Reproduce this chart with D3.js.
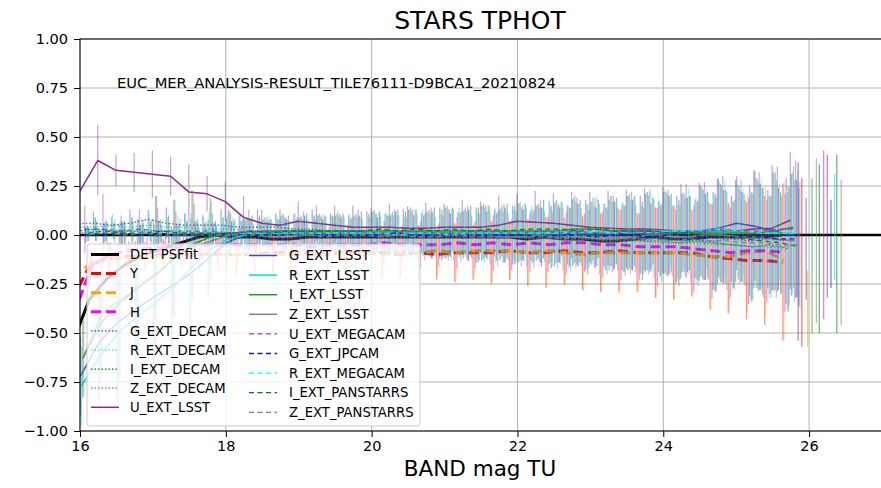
<!DOCTYPE html>
<html>
<head>
<meta charset="utf-8">
<script src="https://cdn.jsdelivr.net/npm/d3@7"></script>
<style>
  body { margin: 0; background: #fff; }
  svg text { font-family: "DejaVu Sans", sans-serif; fill: #000; }
</style>
</head>
<body>
<div id="chart"></div>
<script>
// magnitude bins (BAND mag TU)
const magBins = [16.00,16.25,16.50,16.75,17.00,17.25,17.50,17.75,18.00,18.25,
  18.50,18.75,19.00,19.25,19.50,19.75,20.00,20.25,20.50,20.75,
  21.00,21.25,21.50,21.75,22.00,22.25,22.50,22.75,23.00,23.25,
  23.50,23.75,24.00,24.25,24.50,24.75,25.00,25.25,25.50,25.75];

const xTicks = [16, 18, 20, 22, 24, 26];
const yTicks = [-1, -0.75, -0.5, -0.25, 0, 0.25, 0.5, 0.75, 1];

// mean offsets per band
const detPsf = [-0.57,-0.33,-0.22,-0.15,-0.10,-0.07,-0.04,-0.01,0.00,-0.01,
  -0.01,-0.02,-0.02,-0.01,-0.01,-0.01,-0.01,-0.01,-0.01,-0.01,
  -0.01,-0.01,-0.01,-0.01,-0.01,-0.02,-0.01,-0.02,-0.02,-0.03,
  -0.03,-0.02,-0.01,-0.02,-0.02,-0.01,-0.01,-0.01,-0.01,0.00];
const yBand = [-0.33,-0.15,-0.12,-0.11,-0.11,-0.10,-0.10,-0.10,-0.10,-0.10,
  -0.10,-0.09,-0.09,-0.09,-0.10,-0.09,-0.09,-0.09,-0.10,-0.09,
  -0.10,-0.09,-0.09,-0.09,-0.08,-0.09,-0.09,-0.08,-0.09,-0.09,
  -0.08,-0.09,-0.09,-0.09,-0.09,-0.11,-0.12,-0.13,-0.13,-0.14];
const jBand = [-0.22,-0.14,-0.12,-0.12,-0.11,-0.11,-0.11,-0.10,-0.10,-0.10,
  -0.10,-0.10,-0.10,-0.10,-0.09,-0.10,-0.09,-0.10,-0.09,-0.09,
  -0.08,-0.09,-0.08,-0.08,-0.08,-0.09,-0.08,-0.09,-0.10,-0.09,
  -0.09,-0.09,-0.09,-0.09,-0.10,-0.11,-0.11,-0.09,-0.08,-0.13];
const hBand = [-0.40,-0.15,-0.10,-0.08,-0.07,-0.06,-0.06,-0.05,-0.05,-0.05,
  -0.05,-0.05,-0.05,-0.06,-0.05,-0.05,-0.05,-0.04,-0.05,-0.05,
  -0.05,-0.04,-0.05,-0.04,-0.05,-0.04,-0.05,-0.04,-0.04,-0.05,
  -0.05,-0.06,-0.06,-0.06,-0.07,-0.08,-0.09,-0.08,-0.08,-0.09];
const gDecam = [0.06,0.06,0.05,0.06,0.08,0.06,0.05,0.05,0.05,0.04,
  0.04,0.04,0.03,0.03,0.02,0.02,0.01,0.01,0.01,0.01,
  0.01,0.01,0.00,0.01,0.00,0.00,0.01,0.00,0.00,0.00,
  -0.01,0.00,-0.01,-0.02,-0.02,-0.03,-0.02,-0.03,-0.02,-0.03];
const rDecam = [0.04,0.04,0.05,0.04,0.05,0.04,0.04,0.03,0.03,0.03,
  0.02,0.02,0.02,0.02,0.01,0.01,0.01,0.01,0.00,0.01,
  0.00,0.01,0.00,0.00,0.00,0.00,0.00,-0.01,0.00,-0.01,
  -0.01,-0.02,-0.02,-0.03,-0.03,-0.04,-0.05,-0.06,-0.06,-0.08];
const iDecam = [0.02,0.03,0.02,0.02,0.02,0.02,0.01,0.01,0.01,0.01,
  0.01,0.01,0.00,0.00,0.01,0.00,0.00,0.00,0.00,0.00,
  0.00,0.00,0.00,-0.01,0.00,-0.01,-0.01,-0.01,-0.02,-0.02,
  -0.02,-0.03,-0.03,-0.04,-0.03,-0.04,-0.05,-0.06,-0.05,-0.07];
const zDecam = [0.01,0.02,0.02,0.02,0.01,0.01,0.01,0.01,0.00,0.00,
  0.00,0.00,0.00,0.00,0.00,-0.01,0.00,-0.01,-0.01,-0.01,
  -0.01,-0.01,-0.01,-0.02,-0.01,-0.02,-0.02,-0.02,-0.02,-0.03,
  -0.03,-0.03,-0.04,-0.04,-0.04,-0.05,-0.05,-0.06,-0.06,-0.06];
const uLsst = [0.22,0.38,0.33,0.32,0.31,0.30,0.22,0.21,0.17,0.09,
  0.06,0.05,0.07,0.06,0.05,0.04,0.04,0.04,0.035,0.035,
  0.04,0.04,0.04,0.05,0.07,0.065,0.06,0.05,0.04,0.035,
  0.03,0.03,0.025,0.02,0.015,0.02,0.02,0.03,0.035,0.075];
const gLsst = [-0.72,-0.55,-0.45,-0.38,-0.32,-0.26,-0.20,-0.12,-0.04,0.00,
  0.01,0.01,0.01,0.01,0.00,0.01,0.01,0.00,0.01,0.01,
  0.01,0.00,0.01,0.00,0.01,0.01,0.00,0.01,0.01,0.00,
  0.01,0.01,0.01,0.01,0.02,0.035,0.06,0.045,0.02,0.00];
const rLsst = [-0.77,-0.62,-0.50,-0.42,-0.35,-0.27,-0.17,-0.08,-0.02,0.00,
  0.01,0.01,0.01,0.01,0.01,0.01,0.01,0.01,0.01,0.01,
  0.01,0.01,0.01,0.01,0.01,0.01,0.01,0.02,0.01,0.02,
  0.01,0.02,0.02,0.02,0.02,0.02,0.02,0.01,0.01,0.01];
const iLsst = [-0.63,-0.45,-0.35,-0.27,-0.20,-0.12,-0.05,-0.01,0.01,0.01,
  0.02,0.02,0.02,0.02,0.02,0.02,0.02,0.02,0.02,0.02,
  0.02,0.02,0.02,0.02,0.02,0.02,0.02,0.03,0.03,0.02,
  0.02,0.02,0.01,0.01,0.01,0.01,0.01,0.01,0.02,0.04];
const zLsst = [-0.62,-0.40,-0.33,-0.27,-0.20,-0.12,-0.06,-0.03,0.00,0.01,
  0.00,0.00,0.00,0.00,0.00,0.00,0.00,0.00,0.00,0.00,
  0.00,0.00,0.00,-0.01,-0.01,0.00,-0.01,0.00,-0.01,-0.01,
  -0.01,0.00,0.00,-0.01,0.00,0.00,-0.01,-0.01,-0.02,-0.03];
const uMegacam = [0.03,0.03,0.02,0.03,0.02,0.02,0.02,0.02,0.01,0.02,
  0.02,0.01,0.02,0.01,0.01,0.02,0.01,0.01,0.02,0.01,
  0.01,0.01,0.02,0.01,0.01,0.02,0.01,0.02,0.01,0.01,
  0.02,0.02,0.01,0.02,0.02,0.03,0.02,0.02,0.03,0.03];
const gJpcam = [0.00,0.01,0.01,0.00,0.01,0.00,0.00,0.00,0.01,0.00,
  0.00,0.00,0.01,0.00,0.00,0.00,0.00,0.01,0.00,0.00,
  0.00,0.00,0.00,0.00,0.00,-0.01,0.00,0.00,-0.01,0.00,
  0.00,-0.01,0.00,0.00,-0.01,-0.01,-0.01,-0.01,-0.02,-0.02];
const rMegacam = [0.02,0.02,0.03,0.02,0.02,0.02,0.01,0.02,0.01,0.01,
  0.01,0.01,0.01,0.01,0.01,0.01,0.01,0.00,0.01,0.01,
  0.00,0.01,0.01,0.01,0.01,0.01,0.01,0.01,0.02,0.01,
  0.02,0.01,0.02,0.02,0.03,0.03,0.02,0.01,0.01,0.01];
const iPanstarrs = [0.01,0.02,0.01,0.01,0.02,0.01,0.01,0.01,0.01,0.02,
  0.01,0.02,0.02,0.02,0.02,0.02,0.03,0.02,0.03,0.02,
  0.03,0.02,0.03,0.02,0.03,0.03,0.03,0.02,0.03,0.02,
  0.02,0.02,0.01,0.01,0.00,-0.01,-0.02,-0.03,-0.04,-0.06];
const zPanstarrs = [0.00,0.01,0.00,0.01,0.00,0.00,0.00,0.00,0.00,0.00,
  -0.01,0.00,0.00,-0.01,0.00,0.00,-0.01,0.00,-0.01,-0.01,
  0.00,-0.01,-0.01,-0.01,-0.01,-0.01,-0.02,-0.01,-0.02,-0.02,
  -0.02,-0.02,-0.03,-0.02,-0.03,-0.03,-0.04,-0.04,-0.05,-0.05];

// error bar half widths
const errA = [0.04,0.05,0.06,0.05,0.06,0.05,0.07,0.06,0.06,0.08,
  0.07,0.08,0.09,0.08,0.09,0.10,0.09,0.11,0.10,0.12,
  0.11,0.13,0.12,0.14,0.13,0.15,0.14,0.16,0.15,0.17,
  0.18,0.17,0.20,0.19,0.22,0.24,0.23,0.27,0.26,0.30];
const errB = [0.03,0.06,0.04,0.07,0.05,0.08,0.06,0.05,0.08,0.06,
  0.09,0.07,0.08,0.10,0.09,0.08,0.11,0.10,0.12,0.10,
  0.13,0.11,0.14,0.12,0.15,0.13,0.16,0.15,0.18,0.16,
  0.17,0.20,0.18,0.22,0.20,0.25,0.22,0.28,0.25,0.32];
const errNir = [0.08,0.07,0.08,0.06,0.07,0.08,0.07,0.09,0.08,0.10,
  0.09,0.10,0.11,0.10,0.12,0.11,0.12,0.13,0.12,0.14,
  0.13,0.15,0.14,0.16,0.15,0.17,0.18,0.17,0.19,0.20,
  0.21,0.20,0.23,0.24,0.22,0.27,0.28,0.30,0.33,0.40];
const errU = [0.12,0.18,0.08,0.10,0.12,0.10,0.14,0.09,0.10,0.11,
  0.07,0.08,0.10,0.09,0.10,0.11,0.10,0.12,0.11,0.13,
  0.12,0.14,0.13,0.15,0.14,0.16,0.15,0.17,0.18,0.19,
  0.20,0.21,0.22,0.24,0.25,0.27,0.26,0.30,0.32,0.35];
const errBright = [0.20,0.30,0.40,0.35,0.40,0.30,0.28,0.20,0.12,0.08,
  0.07,0.09,0.08,0.09,0.10,0.09,0.11,0.10,0.12,0.11,
  0.13,0.12,0.14,0.13,0.15,0.14,0.16,0.17,0.16,0.18,
  0.19,0.20,0.21,0.20,0.23,0.25,0.24,0.28,0.30,0.31];

// faintest bins: error bars only
const faintMags = [25.85,25.90,25.96,25.98,26.04,26.10,26.14,26.20,26.25,26.30,26.35,26.38,26.44];
const faintLow = [-0.54,-0.57,-0.33,-0.57,-0.50,-0.45,-0.50,-0.43,-0.32,-0.27,-0.23,-0.50,-0.46];
const faintHigh = [0.37,0.29,0.19,-0.18,0.29,0.39,0.36,0.43,0.41,0.18,0.31,0.41,0.28];
const faintBand = ['U_EXT_LSST','Y','G_EXT_LSST','J','I_EXT_LSST','Z_EXT_LSST','I_EXT_DECAM',
  'U_EXT_MEGACAM','U_EXT_LSST','G_EXT_JPCAM','R_EXT_LSST','I_EXT_PANSTARRS','Z_EXT_DECAM'];

const series = [
  {name: 'DET PSFfit', values: detPsf, err: null, color: '#000000', lw: 3, dash: null},
  {name: 'Y', values: yBand, err: errNir, color: '#ff0000', lw: 3, dash: '10,5'},
  {name: 'J', values: jBand, err: errNir, color: '#ffa500', lw: 3, dash: '10,5'},
  {name: 'H', values: hBand, err: errA, color: '#ff00ff', lw: 3, dash: '10,5'},
  {name: 'G_EXT_DECAM', values: gDecam, err: errB, color: '#3c3cd8', lw: 1.2, dash: '1.5,2'},
  {name: 'R_EXT_DECAM', values: rDecam, err: errA, color: '#00e8e8', lw: 1.2, dash: '1.5,2'},
  {name: 'I_EXT_DECAM', values: iDecam, err: errB, color: '#008000', lw: 1.2, dash: '1.5,2'},
  {name: 'Z_EXT_DECAM', values: zDecam, err: errA, color: '#808080', lw: 1.2, dash: '1.5,2'},
  {name: 'U_EXT_LSST', values: uLsst, err: errU, color: '#8a2a8a', lw: 1.5, dash: null},
  {name: 'G_EXT_LSST', values: gLsst, err: errBright, color: '#4545c8', lw: 1.5, dash: null},
  {name: 'R_EXT_LSST', values: rLsst, err: errBright, color: '#00dcdc', lw: 1.5, dash: null},
  {name: 'I_EXT_LSST', values: iLsst, err: errBright, color: '#1e9a1e', lw: 1.5, dash: null},
  {name: 'Z_EXT_LSST', values: zLsst, err: errBright, color: '#808080', lw: 1.5, dash: null},
  {name: 'U_EXT_MEGACAM', values: uMegacam, err: errU, color: '#b030b0', lw: 1.2, dash: '5,3.5'},
  {name: 'G_EXT_JPCAM', values: gJpcam, err: errA, color: '#1010f0', lw: 1.3, dash: '5,3.5'},
  {name: 'R_EXT_MEGACAM', values: rMegacam, err: errB, color: '#00ffff', lw: 1.2, dash: '5,3.5'},
  {name: 'I_EXT_PANSTARRS', values: iPanstarrs, err: errA, color: '#008000', lw: 1.2, dash: '5,3.5'},
  {name: 'Z_EXT_PANSTARRS', values: zPanstarrs, err: errB, color: '#808080', lw: 1.2, dash: '5,3.5'}
];
const colorOf = {};
series.forEach(s => colorOf[s.name] = s.color);

const width = 881, height = 488;
const plotLeft = 80, plotRight = 882, plotTop = 39, plotBottom = 431;

const svg = d3.select('#chart').append('svg')
  .attr('width', width)
  .attr('height', height);

const x = d3.scaleLinear().domain([16, 27]).range([plotLeft, plotRight]);
const y = d3.scaleLinear().domain([-1, 1]).range([plotBottom, plotTop]);

svg.append('clipPath').attr('id', 'plot-clip')
  .append('rect')
  .attr('x', plotLeft).attr('y', plotTop)
  .attr('width', plotRight - plotLeft).attr('height', plotBottom - plotTop);

// grid
const grid = svg.append('g').attr('stroke', '#b0b0b0').attr('stroke-width', 1);
grid.selectAll('.gx').data(xTicks).join('line')
  .attr('x1', d => x(d)).attr('x2', d => x(d))
  .attr('y1', plotTop).attr('y2', plotBottom);
grid.selectAll('.gy').data(yTicks).join('line')
  .attr('x1', plotLeft).attr('x2', plotRight)
  .attr('y1', d => y(d)).attr('y2', d => y(d));

const plot = svg.append('g').attr('clip-path', 'url(#plot-clip)');

// zero reference line
plot.append('line')
  .attr('x1', plotLeft).attr('x2', plotRight)
  .attr('y1', y(0)).attr('y2', y(0))
  .attr('stroke', '#000').attr('stroke-width', 2.5);

// each band: error bars then the line, dodged in x so bands spread over the bin
series.forEach((s, k) => {
  const off = (k - 8.5) * 0.0145;
  const g = plot.append('g');
  if (s.err) {
    g.selectAll('line').data(s.values).join('line')
      .attr('x1', (d, i) => x(magBins[i] + off))
      .attr('x2', (d, i) => x(magBins[i] + off))
      .attr('y1', (d, i) => y(d - s.err[i]))
      .attr('y2', (d, i) => y(d + s.err[i]))
      .attr('stroke', s.color)
      .attr('stroke-opacity', 0.45)
      .attr('stroke-width', 1.2);
  }
  const line = d3.line()
    .x((d, i) => x(magBins[i] + off))
    .y(d => y(d));
  g.append('path')
    .datum(s.values)
    .attr('d', line)
    .attr('fill', 'none')
    .attr('stroke', s.color)
    .attr('stroke-width', s.lw)
    .attr('stroke-dasharray', s.dash)
    .attr('stroke-linejoin', 'round');
});

plot.selectAll('.faint').data(faintMags).join('line')
  .attr('x1', d => x(d)).attr('x2', d => x(d))
  .attr('y1', (d, i) => y(faintLow[i]))
  .attr('y2', (d, i) => y(faintHigh[i]))
  .attr('stroke', (d, i) => colorOf[faintBand[i]])
  .attr('stroke-opacity', 0.55)
  .attr('stroke-width', 1.3);

// axes
const fmtY = d => d3.format('.2f')(d).replace('-', '\u2212');
const yAxis = svg.append('g')
  .attr('transform', `translate(${plotLeft},0)`)
  .call(d3.axisLeft(y).tickValues(yTicks).tickFormat(fmtY).tickSize(6).tickPadding(6).tickSizeOuter(0));
const xAxis = svg.append('g')
  .attr('transform', `translate(0,${plotBottom})`)
  .call(d3.axisBottom(x).tickValues(xTicks).tickFormat(d3.format('d')).tickSize(6).tickPadding(4).tickSizeOuter(0));
[yAxis, xAxis].forEach(a => {
  a.selectAll('text').attr('font-size', 14.5).attr('font-family', '"DejaVu Sans", sans-serif').attr('fill', '#000');
  a.selectAll('line').attr('stroke', '#000');
  a.select('.domain').remove();
});

// frame
svg.append('rect')
  .attr('x', plotLeft).attr('y', plotTop)
  .attr('width', plotRight - plotLeft).attr('height', plotBottom - plotTop)
  .attr('fill', 'none').attr('stroke', '#000').attr('stroke-width', 1);

// legend
const legend = svg.append('g');
legend.append('rect')
  .attr('x', 87).attr('y', 244)
  .attr('width', 333).attr('height', 182)
  .attr('rx', 3)
  .attr('fill', '#fff').attr('fill-opacity', 0.8)
  .attr('stroke', '#cccccc').attr('stroke-width', 1);

const cols = [
  {items: series.slice(0, 9), hx: 91, tx: 130, y0: 254.5, step: 19.1},
  {items: series.slice(9), hx: 249, tx: 289, y0: 255.5, step: 19.6}
];
cols.forEach(c => {
  c.items.forEach((s, i) => {
    const cy = c.y0 + i * c.step;
    legend.append('line')
      .attr('x1', c.hx).attr('x2', c.hx + 28)
      .attr('y1', cy).attr('y2', cy)
      .attr('stroke', s.color)
      .attr('stroke-width', s.lw)
      .attr('stroke-dasharray', s.dash);
    legend.append('text')
      .attr('x', c.tx).attr('y', cy)
      .attr('dy', '0.36em')
      .attr('font-size', 13.2)
      .attr('fill', '#000')
      .text(s.name);
  });
});

// tile annotation
svg.append('text')
  .attr('x', 117).attr('y', 88)
  .attr('font-size', 14.7)
  .text('EUC_MER_ANALYSIS-RESULT_TILE76111-D9BCA1_20210824');

// title and axis label
svg.append('text')
  .attr('x', 480).attr('y', 29)
  .attr('text-anchor', 'middle')
  .attr('font-size', 25)
  .text('STARS TPHOT');
svg.append('text')
  .attr('x', 480).attr('y', 476)
  .attr('text-anchor', 'middle')
  .attr('font-size', 21.5)
  .text('BAND mag TU');
</script>
</body>
</html>
